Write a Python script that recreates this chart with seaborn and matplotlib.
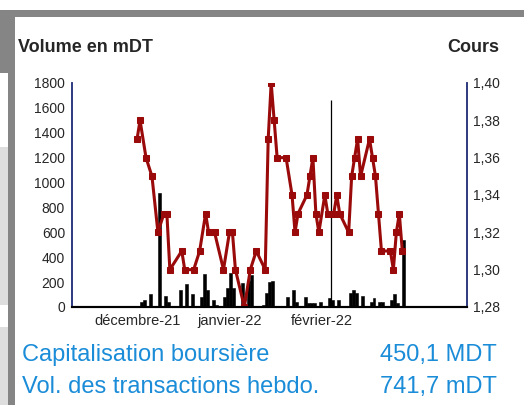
import pandas as pd
import matplotlib.pyplot as plt
from matplotlib.patches import Rectangle
import seaborn as sns

# cours de l'action (DT)
dates_cours = ["2021-12-01", "2021-12-02", "2021-12-04", "2021-12-06", "2021-12-08",
               "2021-12-10", "2021-12-11", "2021-12-12", "2021-12-16", "2021-12-17",
               "2021-12-20", "2021-12-22", "2021-12-24", "2021-12-25", "2021-12-27",
               "2021-12-30", "2022-01-01", "2022-01-02", "2022-01-03", "2022-01-06",
               "2022-01-08", "2022-01-10", "2022-01-13", "2022-01-14", "2022-01-15",
               "2022-01-16", "2022-01-17", "2022-01-20", "2022-01-22", "2022-01-23",
               "2022-01-24", "2022-01-27", "2022-01-28", "2022-01-29", "2022-01-30",
               "2022-01-31", "2022-02-02", "2022-02-03", "2022-02-05", "2022-02-06",
               "2022-02-07", "2022-02-10", "2022-02-11", "2022-02-12", "2022-02-13",
               "2022-02-14", "2022-02-17", "2022-02-18", "2022-02-19", "2022-02-20",
               "2022-02-21", "2022-02-24", "2022-02-25", "2022-02-26", "2022-02-27",
               "2022-02-28"]
cours = [1.37, 1.38, 1.36, 1.35, 1.32,
         1.33, 1.33, 1.30, 1.31, 1.30,
         1.30, 1.31, 1.33, 1.32, 1.32,
         1.30, 1.32, 1.32, 1.30, 1.28,
         1.30, 1.31, 1.30, 1.37, 1.40,
         1.38, 1.36, 1.36, 1.34, 1.32,
         1.33, 1.34, 1.35, 1.36, 1.33,
         1.32, 1.34, 1.33, 1.33, 1.34,
         1.33, 1.32, 1.35, 1.36, 1.37,
         1.35, 1.37, 1.36, 1.35, 1.33,
         1.31, 1.31, 1.30, 1.32, 1.33,
         1.31]

# volume echange (mDT)
dates_vol = ["2021-12-02", "2021-12-03", "2021-12-05", "2021-12-08", "2021-12-10",
             "2021-12-11", "2021-12-15", "2021-12-17", "2021-12-19", "2021-12-22",
             "2021-12-23", "2021-12-24", "2021-12-26", "2021-12-27", "2021-12-30",
             "2021-12-31", "2022-01-01", "2022-01-02", "2022-01-05", "2022-01-07",
             "2022-01-08", "2022-01-12", "2022-01-13", "2022-01-14", "2022-01-15",
             "2022-01-20", "2022-01-22", "2022-01-23", "2022-01-26", "2022-01-27",
             "2022-01-28", "2022-01-29", "2022-01-31", "2022-02-03", "2022-02-04",
             "2022-02-06", "2022-02-10", "2022-02-11", "2022-02-12", "2022-02-14",
             "2022-02-17", "2022-02-18", "2022-02-20", "2022-02-21", "2022-02-24",
             "2022-02-25", "2022-02-26", "2022-02-28"]
volume = [38, 56, 104, 920, 88,
          43, 137, 185, 104, 83,
          265, 137, 56, 16, 80,
          150, 270, 150, 190, 210,
          260, 16, 112, 198, 212,
          80, 137, 43, 80, 32,
          30, 30, 43, 70, 60,
          56, 110, 137, 110, 91,
          43, 75, 43, 43, 56,
          102, 30, 539]

# pic isole
date_pic = ["2022-02-04"]
volume_pic = [1660]

mois = ["2021-12-01", "2022-01-01", "2022-02-01"]
mois_labels = ["décembre-21", "janvier-22", "février-22"]
vol_ticks = [0, 200, 400, 600, 800, 1000, 1200, 1400, 1600, 1800]
cours_ticks = [1.28, 1.30, 1.32, 1.34, 1.36, 1.38, 1.40]
cours_labels = ["1,28", "1,30", "1,32", "1,34", "1,36", "1,38", "1,40"]
x_min, x_max = "2021-11-09 04:00", "2022-03-21 17:00"

capitalisation = "450,1 MDT"
vol_hebdo = "741,7 mDT"

sns.set_style("white")
plt.rcParams['font.family'] = ['Liberation Sans', 'DejaVu Sans']

fig = plt.figure(figsize=(5.24, 4.05), dpi=100)

# cadre de la page
def rect(x0, y0, x1, y1, color):
    fig.add_artist(Rectangle((x0 / 524, 1 - y1 / 405), (x1 - x0) / 524, (y1 - y0) / 405,
                             transform=fig.transFigure, color=color, lw=0, zorder=0))

rect(0, 10, 524, 17, '#858585')
rect(0, 10, 15, 73, '#858585')
rect(8, 10, 15, 405, '#858585')
rect(0, 147, 8, 305, '#dedede')
rect(0, 327, 8, 405, '#dedede')

ax = fig.add_axes([72 / 524, 1 - 307 / 405, 395 / 524, 224 / 405])
ax.bar(pd.to_datetime(dates_vol), volume, width=1.0, align='edge',
       color='black', edgecolor='black', lw=0.4)
ax.vlines(pd.to_datetime(date_pic), 0, volume_pic, color='black', lw=0.9)
ax.set_ylim(0, 1800)
ax.set_yticks(vol_ticks)
ax.set_xlim(pd.Timestamp(x_min), pd.Timestamp(x_max))
ax.set_xticks(pd.to_datetime(mois))
ax.set_xticklabels(mois_labels)
ax.tick_params(axis='x', length=0, pad=5, labelsize=10.5)
ax.tick_params(axis='y', length=0, pad=5, labelsize=10)

ax2 = ax.twinx()
sns.lineplot(x=pd.to_datetime(dates_cours), y=cours, ax=ax2, color='#9a0a0a', lw=2.2,
             marker='s', markersize=4, markeredgecolor='#9a0a0a')
ax2.set_ylim(1.28, 1.40)
ax2.set_yticks(cours_ticks)
ax2.set_yticklabels(cours_labels)
ax2.tick_params(axis='y', length=0, pad=4, labelsize=10)
ax2.set_xlabel('')
ax2.set_ylabel('')

for a in (ax, ax2):
    a.spines['top'].set_visible(False)
    a.spines['left'].set_color('#2e3a80')
    a.spines['right'].set_color('#2e3a80')
    a.spines['bottom'].set_color('black')
    a.spines['left'].set_linewidth(1.2)
    a.spines['right'].set_linewidth(1.2)
    a.spines['bottom'].set_linewidth(1.5)

fig.text(18 / 524, 1 - 47 / 405, "Volume en mDT", fontsize=13, fontweight='bold', va='center')
fig.text(499 / 524, 1 - 47 / 405, "Cours", fontsize=13, fontweight='bold', va='center', ha='right')

bleu = '#1a8cd8'
fig.text(22 / 524, 1 - 355 / 405, "Capitalisation boursière", fontsize=17, color=bleu, va='center')
fig.text(497 / 524, 1 - 355 / 405, capitalisation, fontsize=17, color=bleu, va='center', ha='right')
fig.text(22 / 524, 1 - 387 / 405, "Vol. des transactions hebdo.", fontsize=17, color=bleu, va='center')
fig.text(497 / 524, 1 - 387 / 405, vol_hebdo, fontsize=17, color=bleu, va='center', ha='right')

fig.savefig('out.png', dpi=100)
